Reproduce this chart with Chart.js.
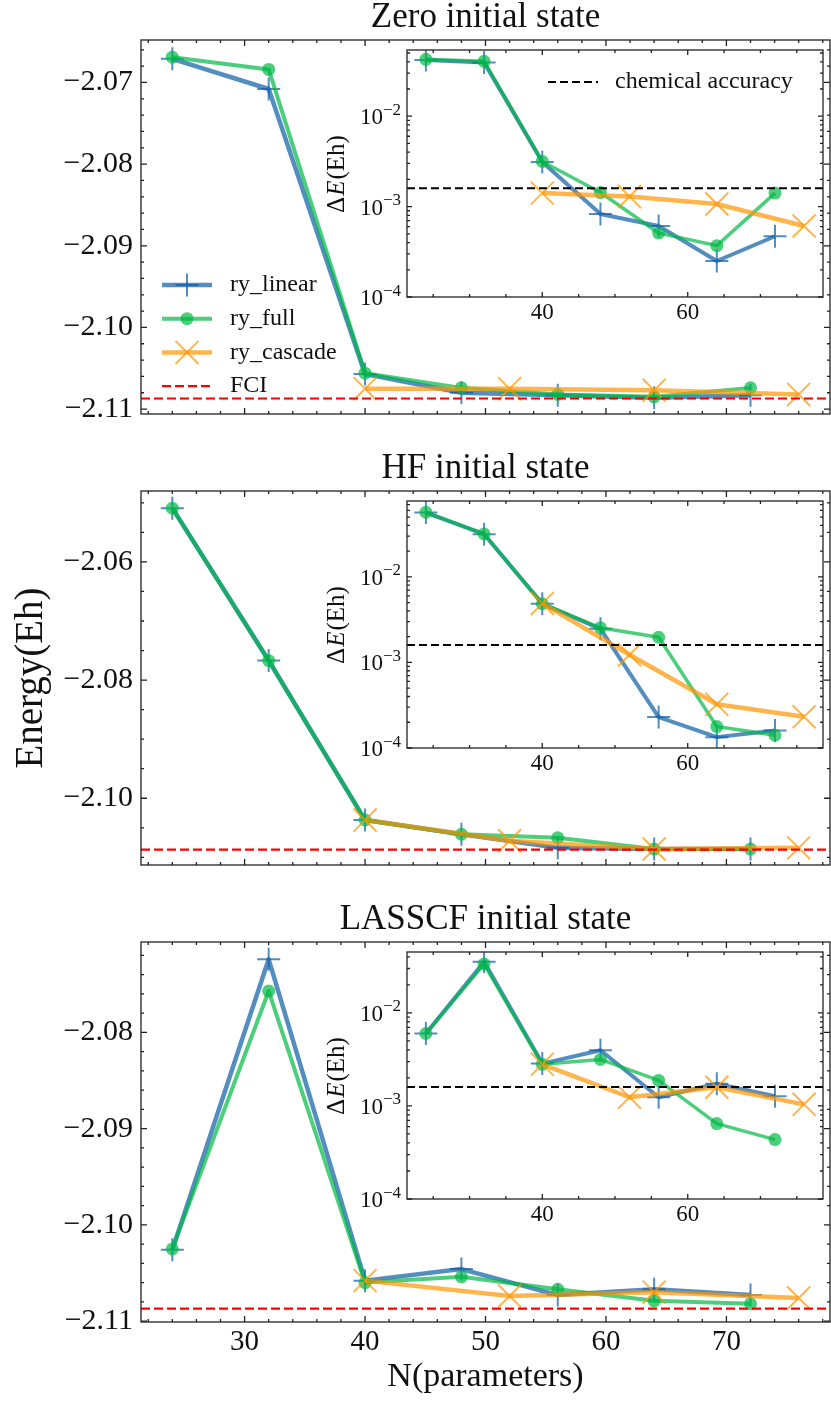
<!DOCTYPE html>
<html>
<head>
<meta charset="utf-8">
<title>Energy vs number of parameters</title>
<script src="https://cdn.jsdelivr.net/npm/chart.js@4.4.1/dist/chart.umd.min.js"></script>
<style>
  html, body { margin: 0; padding: 0; background: #fff; }
  #page { position: relative; width: 831px; height: 1401px; overflow: hidden; }
  canvas { position: absolute; }
</style>
</head>
<body>
<div id="page">
  <canvas id="mainZero" width="831" height="440" style="left:0;top:0"></canvas>
  <canvas id="mainHf" width="831" height="440" style="left:0;top:451px"></canvas>
  <canvas id="mainLas" width="831" height="499" style="left:0;top:902px"></canvas>
  <canvas id="insetZero" width="531" height="307" style="left:300px;top:30px"></canvas>
  <canvas id="insetHf" width="531" height="307" style="left:300px;top:481px"></canvas>
  <canvas id="insetLas" width="531" height="307" style="left:300px;top:932px"></canvas>
</div>
<script>
const nParams = [24, 32, 40, 48, 56, 64, 72];
const nCascade = [40, 52, 64, 76];
const seriesNames = ['ry_linear', 'ry_full', 'ry_cascade'];
const panelTitles = ['Zero initial state', 'HF initial state', 'LASSCF initial state'];
const fciEnergy = -2.1087;
const chemAccuracy = 0.0016;

// total energy (Eh)
const zeroLinear = [-2.0671, -2.0708, -2.1057, -2.1080, -2.1083, -2.1086, -2.1083];
const zeroFull = [-2.0669, -2.0684, -2.1056, -2.1074, -2.1082, -2.1085, -2.1074];
const zeroCascade = [-2.1075, -2.1075, -2.1077, -2.1082];
const hfLinear = [-2.0509, -2.0767, -2.1037, -2.1061, -2.1084, -2.1086, -2.1086];
const hfFull = [-2.0509, -2.0767, -2.1037, -2.1061, -2.1067, -2.1086, -2.1086];
const hfCascade = [-2.1037, -2.1072, -2.1086, -2.1084];
const lasLinear = [-2.1026, -2.0724, -2.1058, -2.1046, -2.1073, -2.1067, -2.1073];
const lasFull = [-2.1025, -2.0757, -2.1060, -2.1054, -2.1067, -2.1079, -2.1082];
const lasCascade = [-2.1058, -2.1074, -2.1070, -2.1076];

// error against FCI (Eh), shown in the insets
const zeroLinearErr = [0.0419, 0.0392, 0.00311, 0.00083, 0.00061, 0.00025, 0.00047];
const zeroFullErr = [0.0426, 0.0405, 0.00316, 0.00143, 0.00051, 0.00037, 0.00141];
const zeroCascadeErr = [0.00141, 0.00129, 0.00107, 0.00061];
const hfLinearErr = [0.0566, 0.0316, 0.00486, 0.00247, 0.00023, 0.000134, 0.00016];
const hfFullErr = [0.057, 0.0318, 0.00486, 0.00254, 0.00197, 0.000178, 0.000141];
const hfCascadeErr = [0.0049, 0.00123, 0.000324, 0.000232];
const lasLinearErr = [0.0060, 0.0355, 0.00285, 0.00397, 0.00124, 0.00173, 0.00127];
const lasFullErr = [0.0060, 0.0335, 0.0028, 0.00316, 0.00188, 0.000646, 0.000435];
const lasCascadeErr = [0.0028, 0.00124, 0.00159, 0.00104];

// tick labels
const xTicks = [30, 40, 50, 60, 70];
const insetXTicks = [40, 60];
const insetYTicks = [1e-4, 1e-3, 1e-2];
const zeroYTicks = [-2.11, -2.10, -2.09, -2.08, -2.07];
const hfYTicks = [-2.10, -2.08, -2.06];
const lasYTicks = [-2.11, -2.10, -2.09, -2.08];

const blue = 'rgba(12, 93, 165, 0.7)';
const green = 'rgba(0, 185, 69, 0.7)';
const orange = 'rgba(255, 149, 0, 0.7)';
const fontFamily = '"Liberation Serif", "DejaVu Serif", serif';
const ink = '#111';

Chart.defaults.font.family = fontFamily;
Chart.defaults.color = ink;

function toPoints(xs, ys) {
  return ys.map((y, i) => ({ x: xs[i], y: y }));
}

function makeDatasets(linear, full, cascade, widths) {
  return [
    {
      label: seriesNames[0], data: toPoints(nParams, linear), order: 3,
      borderColor: blue, borderWidth: widths[0], borderJoinStyle: 'round',
      pointStyle: 'cross', pointRadius: 11.5, pointBorderWidth: 2,
      pointBorderColor: blue, pointBackgroundColor: blue
    },
    {
      label: seriesNames[1], data: toPoints(nParams, full), order: 2,
      borderColor: green, borderWidth: widths[1], borderJoinStyle: 'round',
      pointStyle: 'circle', pointRadius: 6.5, pointBorderWidth: 0,
      pointBorderColor: green, pointBackgroundColor: green
    },
    {
      label: seriesNames[2], data: toPoints(nCascade, cascade), order: 1,
      borderColor: orange, borderWidth: widths[2], borderJoinStyle: 'round',
      pointStyle: 'crossRot', pointRadius: 16.3, pointBorderWidth: 2,
      pointBorderColor: orange, pointBackgroundColor: orange
    }
  ];
}

function fixTicks(values) {
  return scale => { scale.ticks = values.map(v => ({ value: v })); };
}

function linearTicks(scale, step, major) {
  const out = [];
  for (let k = Math.ceil(scale.min / step - 1e-9); k * step <= scale.max + 1e-9; k++) {
    const v = k * step;
    out.push({ value: v, major: Math.abs(v / major - Math.round(v / major)) < 1e-6 });
  }
  return out;
}

function logTicks(scale) {
  const out = [];
  for (let d = Math.floor(Math.log10(scale.min)); d <= Math.ceil(Math.log10(scale.max)); d++) {
    for (let m = 1; m < 10; m++) {
      const v = m * Math.pow(10, d);
      if (v >= scale.min * 0.999 && v <= scale.max) out.push({ value: v, major: m === 1 });
    }
  }
  return out;
}

// white axes face, reference lines, box frame and inward ticks on all sides
const framePlugin = {
  id: 'frame',
  beforeDatasetsDraw(chart) {
    const { ctx, chartArea: a } = chart;
    ctx.save();
    ctx.fillStyle = '#fff';
    ctx.fillRect(a.left, a.top, a.width, a.height);
    ctx.restore();
  },
  afterDatasetsDraw(chart, args, o) {
    const { ctx, chartArea: a, scales } = chart;
    ctx.save();
    ctx.beginPath();
    ctx.rect(a.left, a.top, a.width, a.height);
    ctx.clip();
    (o.hlines || []).forEach(h => {
      const y = scales.y.getPixelForValue(h.value);
      ctx.strokeStyle = h.color;
      ctx.lineWidth = h.width;
      ctx.setLineDash(h.dash);
      ctx.beginPath();
      ctx.moveTo(a.left, y);
      ctx.lineTo(a.right, y);
      ctx.stroke();
    });
    ctx.restore();

    ctx.save();
    ctx.strokeStyle = '#222';
    ctx.lineWidth = 1.3;
    ctx.strokeRect(a.left, a.top, a.width, a.height);
    ctx.beginPath();
    linearTicks(scales.x, o.xMinor, o.xMajor).forEach(t => {
      const px = scales.x.getPixelForValue(t.value);
      const len = t.major ? o.majorLen : o.minorLen;
      ctx.moveTo(px, a.bottom); ctx.lineTo(px, a.bottom - len);
      ctx.moveTo(px, a.top); ctx.lineTo(px, a.top + len);
    });
    const yt = o.log ? logTicks(scales.y) : linearTicks(scales.y, o.yMinor, o.yMajor);
    yt.forEach(t => {
      const py = scales.y.getPixelForValue(t.value);
      const len = t.major ? o.majorLen : o.minorLen;
      ctx.moveTo(a.left, py); ctx.lineTo(a.left + len, py);
      ctx.moveTo(a.right, py); ctx.lineTo(a.right - len, py);
    });
    ctx.stroke();
    ctx.restore();
  }
};

// frameless legend placed inside the axes
const legendPlugin = {
  id: 'innerLegend',
  afterDraw(chart, args, o) {
    if (!o.items) return;
    const { ctx, chartArea: a } = chart;
    ctx.save();
    ctx.font = o.font;
    ctx.textBaseline = 'middle';
    ctx.fillStyle = ink;
    o.items.forEach((it, i) => {
      const x0 = a.left + o.x;
      const y = a.top + o.y + i * o.rowHeight;
      const ds = it.dataset !== undefined ? chart.data.datasets[it.dataset] : null;
      ctx.save();
      ctx.strokeStyle = ds ? ds.borderColor : it.color;
      ctx.lineWidth = ds ? ds.borderWidth : it.width;
      ctx.setLineDash(ds ? [] : it.dash);
      ctx.beginPath();
      ctx.moveTo(x0, y);
      ctx.lineTo(x0 + o.lineLength, y);
      ctx.stroke();
      if (ds) {
        ctx.setLineDash([]);
        ctx.fillStyle = ds.pointBackgroundColor;
        ctx.strokeStyle = ds.pointBorderColor;
        ctx.lineWidth = ds.pointBorderWidth;
        Chart.helpers.drawPoint(ctx, {
          pointStyle: ds.pointStyle, radius: ds.pointRadius,
          borderWidth: ds.pointBorderWidth, rotation: 0
        }, x0 + o.lineLength / 2, y);
      }
      ctx.restore();
      ctx.fillText(ds ? ds.label : it.label, x0 + o.textOffset, y);
    });
    ctx.restore();
  }
};

// 10^n labels and the ΔE(Eh) title of the log insets
const insetLabelPlugin = {
  id: 'insetLabels',
  afterDraw(chart, args, o) {
    const { ctx, chartArea: a, scales } = chart;
    ctx.save();
    ctx.fillStyle = ink;
    ctx.textAlign = 'left';
    ctx.textBaseline = 'alphabetic';
    scales.y.ticks.forEach(t => {
      const py = scales.y.getPixelForValue(t.value);
      const exp = '\u2212' + Math.round(-Math.log10(t.value));
      ctx.font = '17px ' + fontFamily;
      const ws = ctx.measureText(exp).width;
      ctx.font = '23px ' + fontFamily;
      const wb = ctx.measureText('10').width;
      const right = a.left - 6;
      ctx.fillText('10', right - ws - wb, py + 8);
      ctx.font = '17px ' + fontFamily;
      ctx.fillText(exp, right - ws, py - 1.5);
    });
    const parts = [['\u0394', ''], ['E', 'italic '], ['(Eh)', '']];
    ctx.translate(o.titleX, (a.top + a.bottom) / 2);
    ctx.rotate(-Math.PI / 2);
    ctx.textBaseline = 'middle';
    const widths = parts.map(p => {
      ctx.font = p[1] + '25px ' + fontFamily;
      return ctx.measureText(p[0]).width + 1;
    });
    let x = -widths.reduce((s, w) => s + w, 0) / 2;
    parts.forEach((p, i) => {
      ctx.font = p[1] + '25px ' + fontFamily;
      ctx.fillText(p[0], x, 0);
      x += widths[i];
    });
    ctx.restore();
  }
};

const noGrid = { display: false, drawTicks: false };

function mainChart(id, p) {
  return new Chart(document.getElementById(id), {
    type: 'line',
    data: { datasets: makeDatasets(p.linear, p.full, p.cascade, [4.5, 4, 4.5]) },
    plugins: [framePlugin, legendPlugin],
    options: {
      responsive: false,
      animation: false,
      events: [],
      layout: { autoPadding: false, padding: { left: 0, right: 1, top: 0, bottom: 0 } },
      scales: {
        x: {
          type: 'linear', min: 21.4, max: 78.6,
          afterBuildTicks: fixTicks(xTicks),
          afterFit: s => { s.height = p.xHeight; },
          grid: noGrid, border: { display: false },
          ticks: { display: p.showX, font: { size: 29 }, padding: 3, maxRotation: 0, autoSkip: false },
          title: { display: p.showX, text: 'N(parameters)', font: { size: 34 }, padding: { top: 0, bottom: 4 } }
        },
        y: {
          type: 'linear', min: p.yMin, max: p.yMax,
          afterBuildTicks: fixTicks(p.yTicks),
          afterFit: s => { s.width = 141; },
          grid: noGrid, border: { display: false },
          ticks: {
            font: { size: 30 }, padding: 8, autoSkip: false,
            callback: v => '\u2212' + Math.abs(v).toFixed(2)
          },
          title: { display: p.showYTitle, text: 'Energy(Eh)', font: { size: 39 }, padding: { top: 8, bottom: 0 } }
        }
      },
      plugins: {
        legend: { display: false },
        tooltip: { enabled: false },
        title: {
          display: true, text: p.title, fullSize: false, color: ink,
          font: { size: 35, weight: 'normal', lineHeight: 1.0 },
          padding: { top: 0, bottom: 5 }
        },
        frame: {
          hlines: [{ value: fciEnergy, color: 'red', width: 2.2, dash: [9, 4] }],
          xMinor: 2, xMajor: 10, yMinor: p.yMinor, yMajor: p.yMajor, majorLen: 6, minorLen: 3
        },
        innerLegend: p.legend || {}
      }
    }
  });
}

function insetChart(id, p) {
  return new Chart(document.getElementById(id), {
    type: 'line',
    data: { datasets: makeDatasets(p.linear, p.full, p.cascade, [4, 3.5, 4.5]) },
    plugins: [framePlugin, legendPlugin, insetLabelPlugin],
    options: {
      responsive: false,
      animation: false,
      events: [],
      layout: { autoPadding: false, padding: { left: 0, right: 8, top: 20, bottom: 0 } },
      scales: {
        x: {
          type: 'linear', min: 21.4, max: 78.6,
          afterBuildTicks: fixTicks(insetXTicks),
          afterFit: s => { s.height = 40; },
          grid: noGrid, border: { display: false },
          ticks: { font: { size: 23 }, padding: 2, maxRotation: 0, autoSkip: false }
        },
        y: {
          type: 'logarithmic', min: 1e-4, max: p.yMax,
          afterBuildTicks: fixTicks(insetYTicks),
          afterFit: s => { s.width = 107; },
          grid: noGrid, border: { display: false },
          ticks: { display: false }
        }
      },
      plugins: {
        legend: { display: false },
        tooltip: { enabled: false },
        frame: {
          hlines: [{ value: chemAccuracy, color: '#000', width: 2, dash: [8, 4] }],
          xMinor: 5, xMajor: 20, log: true, majorLen: 5, minorLen: 3
        },
        innerLegend: p.legend || {},
        insetLabels: { titleX: 37 }
      }
    }
  });
}

mainChart('mainZero', {
  title: panelTitles[0], linear: zeroLinear, full: zeroFull, cascade: zeroCascade,
  yMin: -2.1106, yMax: -2.0648, yTicks: zeroYTicks, yMinor: 0.002, yMajor: 0.01,
  xHeight: 20, showX: false, showYTitle: false,
  legend: {
    items: [{ dataset: 0 }, { dataset: 1 }, { dataset: 2 },
            { label: 'FCI', color: 'red', width: 2.2, dash: [9, 4] }],
    x: 21, y: 245, rowHeight: 33.7, lineLength: 50, textOffset: 68, font: '24px ' + fontFamily
  }
});
mainChart('mainHf', {
  title: panelTitles[1], linear: hfLinear, full: hfFull, cascade: hfCascade,
  yMin: -2.1113, yMax: -2.0480, yTicks: hfYTicks, yMinor: 0.005, yMajor: 0.02,
  xHeight: 20, showX: false, showYTitle: true
});
mainChart('mainLas', {
  title: panelTitles[2], linear: lasLinear, full: lasFull, cascade: lasCascade,
  yMin: -2.1101, yMax: -2.0706, yTicks: lasYTicks, yMinor: 0.002, yMajor: 0.01,
  xHeight: 79, showX: true, showYTitle: false
});

insetChart('insetZero', {
  linear: zeroLinearErr, full: zeroFullErr, cascade: zeroCascadeErr, yMax: 0.054,
  legend: {
    items: [{ label: 'chemical accuracy', color: '#000', width: 2, dash: [8, 4] }],
    x: 141, y: 32, rowHeight: 0, lineLength: 50, textOffset: 67, font: '24px ' + fontFamily
  }
});
insetChart('insetHf', { linear: hfLinearErr, full: hfFullErr, cascade: hfCascadeErr, yMax: 0.0772 });
insetChart('insetLas', { linear: lasLinearErr, full: lasFullErr, cascade: lasCascadeErr, yMax: 0.0451 });
</script>
</body>
</html>
